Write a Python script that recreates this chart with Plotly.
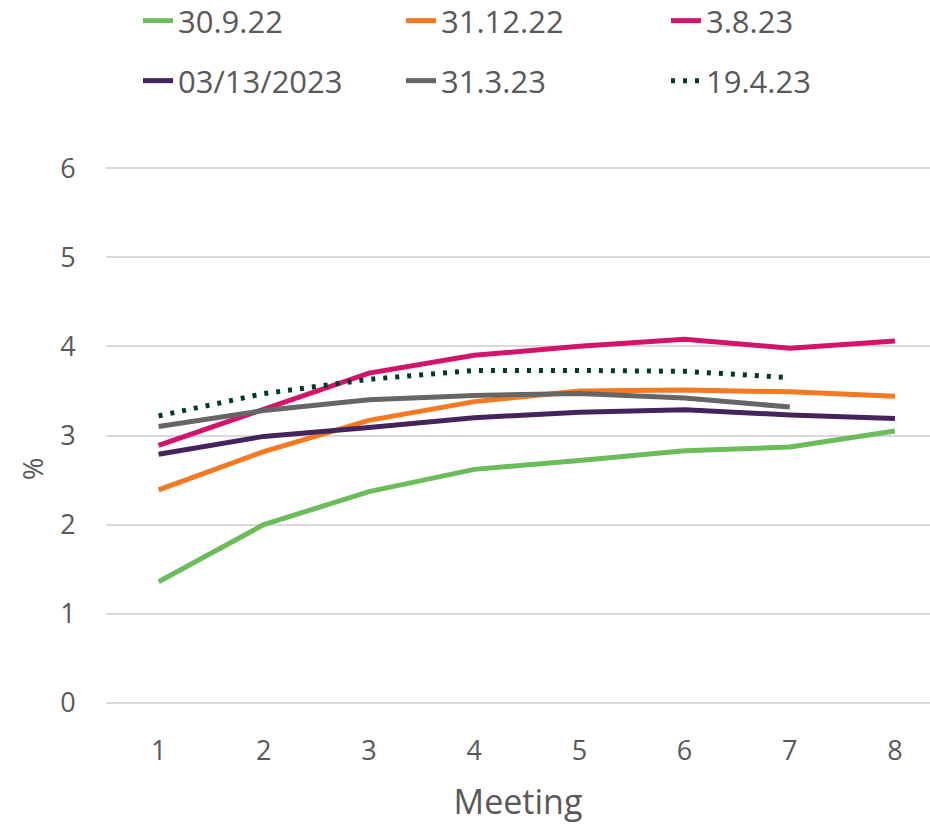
import plotly.graph_objects as go

# Expected policy rate (%) by meeting, one curve per pricing date
meetings = [1, 2, 3, 4, 5, 6, 7, 8]

series_names = ["30.9.22", "31.12.22", "3.8.23", "03/13/2023", "31.3.23", "19.4.23"]

rate_30_9_22 = [1.36, 2.00, 2.37, 2.62, 2.72, 2.83, 2.87, 3.05]
rate_31_12_22 = [2.39, 2.82, 3.17, 3.38, 3.50, 3.51, 3.49, 3.44]
rate_3_8_23 = [2.89, 3.30, 3.70, 3.90, 4.00, 4.08, 3.98, 4.06]
rate_03_13_2023 = [2.79, 2.99, 3.09, 3.20, 3.26, 3.29, 3.23, 3.19]
rate_31_3_23 = [3.10, 3.28, 3.40, 3.45, 3.47, 3.42, 3.32]
rate_19_4_23 = [3.22, 3.47, 3.63, 3.73, 3.73, 3.72, 3.65]

y_ticks = [0, 1, 2, 3, 4, 5, 6]

series_values = [rate_30_9_22, rate_31_12_22, rate_3_8_23,
                 rate_03_13_2023, rate_31_3_23, rate_19_4_23]
colors = ["#6ABD5A", "#F47920", "#D4146A", "#45245E", "#666666", "#003B2A"]
dashes = ["solid", "solid", "solid", "solid", "solid", "4px,8px"]

TEXT = "#595959"
FONT = "Open Sans"

W, H = 930, 824
# legend grid: three columns, two rows (container pixel positions)
leg_cols = [138, 401, 666]
leg_rows = [21, 81]

fig = go.Figure()
for i, (name, vals) in enumerate(zip(series_names, series_values)):
    legend_id = "legend" if i == 0 else f"legend{i + 1}"
    fig.add_trace(go.Scatter(
        x=meetings[:len(vals)], y=vals, name=name, mode="lines",
        line=dict(color=colors[i], width=5, dash=dashes[i]),
        legend=legend_id,
    ))
    col, row = i % 3, i // 3
    fig.update_layout({legend_id: dict(
        xref="container", yref="container",
        x=leg_cols[col] / W, y=1 - leg_rows[row] / H,
        xanchor="left", yanchor="middle",
        font=dict(family=FONT, size=31, color=TEXT),
        bgcolor="rgba(0,0,0,0)", borderwidth=0,
    )})

fig.update_layout(
    width=W, height=H,
    margin=dict(l=106, r=0, t=167, b=120, autoexpand=False),
    paper_bgcolor="white", plot_bgcolor="white",
    showlegend=True,
    xaxis=dict(
        range=[0.5, 8.333], tickmode="array", tickvals=meetings,
        showgrid=False, zeroline=False, showline=False,
        tickfont=dict(family=FONT, size=27, color=TEXT),
        ticks="outside", ticklen=0, ticklabelstandoff=23,
        title=dict(text="Meeting", standoff=26,
                   font=dict(family=FONT, size=34, color=TEXT)),
    ),
    yaxis=dict(
        range=[-0.012, 6.012], tickmode="array", tickvals=y_ticks,
        showgrid=True, gridcolor="#D9D9D9", gridwidth=1.5,
        zeroline=False, showline=False,
        tickfont=dict(family=FONT, size=27, color=TEXT),
        ticks="outside", ticklen=0, ticklabelstandoff=24,
    ),
    annotations=[dict(
        text="%", textangle=-90, showarrow=False,
        xref="paper", yref="paper",
        x=(32 - 106) / 824, y=(703 - 468) / 537,
        xanchor="center", yanchor="middle",
        font=dict(family=FONT, size=27, color=TEXT),
    )],
)

fig.write_html("out.html")
